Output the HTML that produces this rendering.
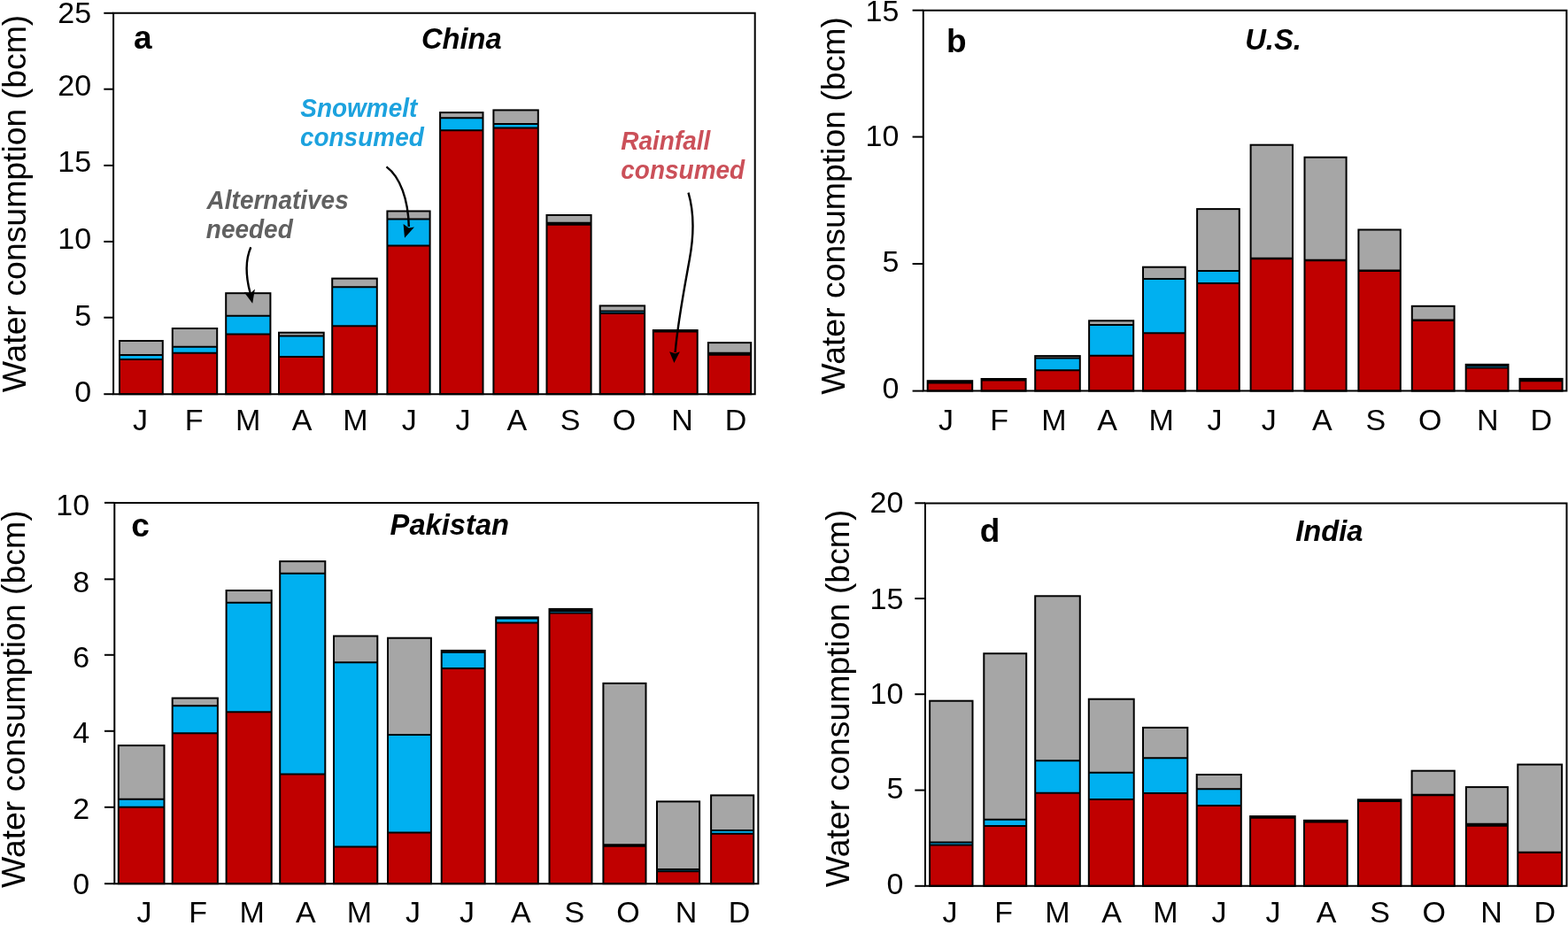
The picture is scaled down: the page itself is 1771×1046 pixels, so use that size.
<!DOCTYPE html>
<html><head><meta charset="utf-8"><title>Water consumption by month</title>
<style>
html,body{margin:0;padding:0;background:#fff;}
svg{display:block;}
.t{font-family:"Liberation Sans", Arial, Helvetica, sans-serif;}
</style></head><body>
<svg width="1771" height="1046" viewBox="0 0 1771 1046">
<rect x="0" y="0" width="1771" height="1046" fill="#fff"/>
<g id="panel-a">
<rect x="135" y="405.9" width="48.8" height="39.3" fill="#C00000"/>
<rect x="135" y="401.1" width="48.8" height="4.8" fill="#00B0F0"/>
<rect x="135" y="385" width="48.8" height="16.1" fill="#A6A6A6"/>
<path d="M135 401.1H183.8M135 405.9H183.8" stroke="#000" stroke-width="2" fill="none"/>
<rect x="135" y="385" width="48.8" height="60.2" fill="none" stroke="#000" stroke-width="2"/>
<rect x="194.8" y="398.7" width="50.4" height="46.5" fill="#C00000"/>
<rect x="194.8" y="391.8" width="50.4" height="6.9" fill="#00B0F0"/>
<rect x="194.8" y="371" width="50.4" height="20.8" fill="#A6A6A6"/>
<path d="M194.8 391.8H245.2M194.8 398.7H245.2" stroke="#000" stroke-width="2" fill="none"/>
<rect x="194.8" y="371" width="50.4" height="74.2" fill="none" stroke="#000" stroke-width="2"/>
<rect x="255.2" y="377.5" width="50.2" height="67.7" fill="#C00000"/>
<rect x="255.2" y="356.7" width="50.2" height="20.8" fill="#00B0F0"/>
<rect x="255.2" y="331.2" width="50.2" height="25.5" fill="#A6A6A6"/>
<path d="M255.2 356.7H305.4M255.2 377.5H305.4" stroke="#000" stroke-width="2" fill="none"/>
<rect x="255.2" y="331.2" width="50.2" height="114" fill="none" stroke="#000" stroke-width="2"/>
<rect x="315" y="403" width="50.7" height="42.2" fill="#C00000"/>
<rect x="315" y="379.6" width="50.7" height="23.4" fill="#00B0F0"/>
<rect x="315" y="375.7" width="50.7" height="3.9" fill="#A6A6A6"/>
<path d="M315 379.6H365.7M315 403H365.7" stroke="#000" stroke-width="2" fill="none"/>
<rect x="315" y="375.7" width="50.7" height="69.5" fill="none" stroke="#000" stroke-width="2"/>
<rect x="375.2" y="368.2" width="50.6" height="77" fill="#C00000"/>
<rect x="375.2" y="324.2" width="50.6" height="44" fill="#00B0F0"/>
<rect x="375.2" y="314.6" width="50.6" height="9.6" fill="#A6A6A6"/>
<path d="M375.2 324.2H425.8M375.2 368.2H425.8" stroke="#000" stroke-width="2" fill="none"/>
<rect x="375.2" y="314.6" width="50.6" height="130.6" fill="none" stroke="#000" stroke-width="2"/>
<rect x="437.4" y="277.5" width="48.2" height="167.7" fill="#C00000"/>
<rect x="437.4" y="247.5" width="48.2" height="30" fill="#00B0F0"/>
<rect x="437.4" y="238.5" width="48.2" height="9" fill="#A6A6A6"/>
<path d="M437.4 247.5H485.6M437.4 277.5H485.6" stroke="#000" stroke-width="2" fill="none"/>
<rect x="437.4" y="238.5" width="48.2" height="206.7" fill="none" stroke="#000" stroke-width="2"/>
<rect x="497.1" y="147.2" width="48.4" height="298" fill="#C00000"/>
<rect x="497.1" y="133.3" width="48.4" height="13.9" fill="#00B0F0"/>
<rect x="497.1" y="127.1" width="48.4" height="6.2" fill="#A6A6A6"/>
<path d="M497.1 133.3H545.5M497.1 147.2H545.5" stroke="#000" stroke-width="2" fill="none"/>
<rect x="497.1" y="127.1" width="48.4" height="318.1" fill="none" stroke="#000" stroke-width="2"/>
<rect x="557.4" y="144.5" width="50.4" height="300.7" fill="#C00000"/>
<rect x="557.4" y="140" width="50.4" height="4.5" fill="#00B0F0"/>
<rect x="557.4" y="124.4" width="50.4" height="15.6" fill="#A6A6A6"/>
<path d="M557.4 140H607.8M557.4 144.5H607.8" stroke="#000" stroke-width="2" fill="none"/>
<rect x="557.4" y="124.4" width="50.4" height="320.8" fill="none" stroke="#000" stroke-width="2"/>
<rect x="617.5" y="253.8" width="50.1" height="191.4" fill="#C00000"/>
<rect x="617.5" y="251.7" width="50.1" height="2.1" fill="#00B0F0"/>
<rect x="617.5" y="243" width="50.1" height="8.7" fill="#A6A6A6"/>
<path d="M617.5 251.7H667.6M617.5 253.8H667.6" stroke="#000" stroke-width="2" fill="none"/>
<rect x="617.5" y="243" width="50.1" height="202.2" fill="none" stroke="#000" stroke-width="2"/>
<rect x="677.7" y="354.1" width="50.4" height="91.1" fill="#C00000"/>
<rect x="677.7" y="351.6" width="50.4" height="2.5" fill="#00B0F0"/>
<rect x="677.7" y="345.4" width="50.4" height="6.2" fill="#A6A6A6"/>
<path d="M677.7 351.6H728.1M677.7 354.1H728.1" stroke="#000" stroke-width="2" fill="none"/>
<rect x="677.7" y="345.4" width="50.4" height="99.8" fill="none" stroke="#000" stroke-width="2"/>
<rect x="737.8" y="374.5" width="49.9" height="70.7" fill="#C00000"/>
<rect x="737.8" y="373.6" width="49.9" height="0.9" fill="#00B0F0"/>
<rect x="737.8" y="373.1" width="49.9" height="0.5" fill="#A6A6A6"/>
<path d="M737.8 373.6H787.7M737.8 374.5H787.7" stroke="#000" stroke-width="2" fill="none"/>
<rect x="737.8" y="373.1" width="49.9" height="72.1" fill="none" stroke="#000" stroke-width="2"/>
<rect x="799.9" y="400.8" width="48.3" height="44.4" fill="#C00000"/>
<rect x="799.9" y="398.7" width="48.3" height="2.1" fill="#00B0F0"/>
<rect x="799.9" y="387.1" width="48.3" height="11.6" fill="#A6A6A6"/>
<path d="M799.9 398.7H848.2M799.9 400.8H848.2" stroke="#000" stroke-width="2" fill="none"/>
<rect x="799.9" y="387.1" width="48.3" height="58.1" fill="none" stroke="#000" stroke-width="2"/>
<path d="M128.1 14.8H852.7V445.2H128.1Z" fill="none" stroke="#000" stroke-width="2"/>
<line x1="117.3" y1="14.8" x2="128.1" y2="14.8" stroke="#000" stroke-width="2"/>
<text class="t" x="103.1" y="26.4" font-size="34" text-anchor="end">25</text>
<line x1="117.3" y1="100.7" x2="128.1" y2="100.7" stroke="#000" stroke-width="2"/>
<text class="t" x="103.1" y="108.2" font-size="34" text-anchor="end">20</text>
<line x1="117.3" y1="186.9" x2="128.1" y2="186.9" stroke="#000" stroke-width="2"/>
<text class="t" x="103.1" y="194" font-size="34" text-anchor="end">15</text>
<line x1="117.3" y1="272.9" x2="128.1" y2="272.9" stroke="#000" stroke-width="2"/>
<text class="t" x="103.1" y="280.6" font-size="34" text-anchor="end">10</text>
<line x1="117.3" y1="358.7" x2="128.1" y2="358.7" stroke="#000" stroke-width="2"/>
<text class="t" x="103.1" y="367.5" font-size="34" text-anchor="end">5</text>
<line x1="117.3" y1="445.2" x2="128.1" y2="445.2" stroke="#000" stroke-width="2"/>
<text class="t" x="103.1" y="453.6" font-size="34" text-anchor="end">0</text>
<text class="t" x="158.576" y="486.2" font-size="34" text-anchor="middle">J</text>
<text class="t" x="219.107" y="486.2" font-size="34" text-anchor="middle">F</text>
<text class="t" x="280.203" y="486.2" font-size="34" text-anchor="middle">M</text>
<text class="t" x="340.998" y="486.2" font-size="34" text-anchor="middle">A</text>
<text class="t" x="401.503" y="486.2" font-size="34" text-anchor="middle">M</text>
<text class="t" x="462.276" y="486.2" font-size="34" text-anchor="middle">J</text>
<text class="t" x="522.876" y="486.2" font-size="34" text-anchor="middle">J</text>
<text class="t" x="583.798" y="486.2" font-size="34" text-anchor="middle">A</text>
<text class="t" x="644.132" y="486.2" font-size="34" text-anchor="middle">S</text>
<text class="t" x="705.075" y="486.2" font-size="34" text-anchor="middle">O</text>
<text class="t" x="770.553" y="486.2" font-size="34" text-anchor="middle">N</text>
<text class="t" x="830.966" y="486.2" font-size="34" text-anchor="middle">D</text>
<text class="t" transform="translate(29 230) rotate(-90)" x="0" y="0" font-size="37.4" text-anchor="middle">Water consumption (bcm)</text>
<text class="t" x="151" y="55.4" font-size="37" font-weight="bold">a</text>
<text class="t" x="475.9" y="54.9" font-size="32.7" font-weight="bold" font-style="italic">China</text>
</g>
<g id="panel-b">
<rect x="1047.7" y="432.6" width="50.5" height="9" fill="#C00000"/>
<rect x="1047.7" y="430.9" width="50.5" height="1.7" fill="#00B0F0"/>
<rect x="1047.7" y="430.2" width="50.5" height="0.7" fill="#A6A6A6"/>
<path d="M1047.7 430.9H1098.2M1047.7 432.6H1098.2" stroke="#000" stroke-width="2" fill="none"/>
<rect x="1047.7" y="430.2" width="50.5" height="11.4" fill="none" stroke="#000" stroke-width="2"/>
<rect x="1108.6" y="429.6" width="50" height="12" fill="#C00000"/>
<rect x="1108.6" y="428.7" width="50" height="0.9" fill="#00B0F0"/>
<rect x="1108.6" y="428" width="50" height="0.7" fill="#A6A6A6"/>
<path d="M1108.6 428.7H1158.6M1108.6 429.6H1158.6" stroke="#000" stroke-width="2" fill="none"/>
<rect x="1108.6" y="428" width="50" height="13.6" fill="none" stroke="#000" stroke-width="2"/>
<rect x="1169.2" y="418.3" width="50.6" height="23.3" fill="#C00000"/>
<rect x="1169.2" y="404.5" width="50.6" height="13.8" fill="#00B0F0"/>
<rect x="1169.2" y="402.1" width="50.6" height="2.4" fill="#A6A6A6"/>
<path d="M1169.2 404.5H1219.8M1169.2 418.3H1219.8" stroke="#000" stroke-width="2" fill="none"/>
<rect x="1169.2" y="402.1" width="50.6" height="39.5" fill="none" stroke="#000" stroke-width="2"/>
<rect x="1230.1" y="401.7" width="50.1" height="39.9" fill="#C00000"/>
<rect x="1230.1" y="366.9" width="50.1" height="34.8" fill="#00B0F0"/>
<rect x="1230.1" y="362.3" width="50.1" height="4.6" fill="#A6A6A6"/>
<path d="M1230.1 366.9H1280.2M1230.1 401.7H1280.2" stroke="#000" stroke-width="2" fill="none"/>
<rect x="1230.1" y="362.3" width="50.1" height="79.3" fill="none" stroke="#000" stroke-width="2"/>
<rect x="1291" y="376.3" width="47.7" height="65.3" fill="#C00000"/>
<rect x="1291" y="315.1" width="47.7" height="61.2" fill="#00B0F0"/>
<rect x="1291" y="301.7" width="47.7" height="13.4" fill="#A6A6A6"/>
<path d="M1291 315.1H1338.7M1291 376.3H1338.7" stroke="#000" stroke-width="2" fill="none"/>
<rect x="1291" y="301.7" width="47.7" height="139.9" fill="none" stroke="#000" stroke-width="2"/>
<rect x="1352.1" y="320" width="47.7" height="121.6" fill="#C00000"/>
<rect x="1352.1" y="306" width="47.7" height="14" fill="#00B0F0"/>
<rect x="1352.1" y="236.1" width="47.7" height="69.9" fill="#A6A6A6"/>
<path d="M1352.1 306H1399.8M1352.1 320H1399.8" stroke="#000" stroke-width="2" fill="none"/>
<rect x="1352.1" y="236.1" width="47.7" height="205.5" fill="none" stroke="#000" stroke-width="2"/>
<rect x="1412.6" y="292.2" width="47.4" height="149.4" fill="#C00000"/>
<rect x="1412.6" y="291.7" width="47.4" height="0.5" fill="#00B0F0"/>
<rect x="1412.6" y="163.7" width="47.4" height="128" fill="#A6A6A6"/>
<path d="M1412.6 291.7H1460M1412.6 292.2H1460" stroke="#000" stroke-width="2" fill="none"/>
<rect x="1412.6" y="163.7" width="47.4" height="277.9" fill="none" stroke="#000" stroke-width="2"/>
<rect x="1473.5" y="294.2" width="47.1" height="147.4" fill="#C00000"/>
<rect x="1473.5" y="293.7" width="47.1" height="0.5" fill="#00B0F0"/>
<rect x="1473.5" y="177.7" width="47.1" height="116" fill="#A6A6A6"/>
<path d="M1473.5 293.7H1520.6M1473.5 294.2H1520.6" stroke="#000" stroke-width="2" fill="none"/>
<rect x="1473.5" y="177.7" width="47.1" height="263.9" fill="none" stroke="#000" stroke-width="2"/>
<rect x="1534.4" y="306" width="47.4" height="135.6" fill="#C00000"/>
<rect x="1534.4" y="305.5" width="47.4" height="0.5" fill="#00B0F0"/>
<rect x="1534.4" y="259.5" width="47.4" height="46" fill="#A6A6A6"/>
<path d="M1534.4 305.5H1581.8M1534.4 306H1581.8" stroke="#000" stroke-width="2" fill="none"/>
<rect x="1534.4" y="259.5" width="47.4" height="182.1" fill="none" stroke="#000" stroke-width="2"/>
<rect x="1594.8" y="362" width="47.8" height="79.6" fill="#C00000"/>
<rect x="1594.8" y="361.5" width="47.8" height="0.5" fill="#00B0F0"/>
<rect x="1594.8" y="345.8" width="47.8" height="15.7" fill="#A6A6A6"/>
<path d="M1594.8 361.5H1642.6M1594.8 362H1642.6" stroke="#000" stroke-width="2" fill="none"/>
<rect x="1594.8" y="345.8" width="47.8" height="95.8" fill="none" stroke="#000" stroke-width="2"/>
<rect x="1655.7" y="415.6" width="47.8" height="26" fill="#C00000"/>
<rect x="1655.7" y="413" width="47.8" height="2.6" fill="#00B0F0"/>
<rect x="1655.7" y="411.8" width="47.8" height="1.2" fill="#A6A6A6"/>
<path d="M1655.7 413H1703.5M1655.7 415.6H1703.5" stroke="#000" stroke-width="2" fill="none"/>
<rect x="1655.7" y="411.8" width="47.8" height="29.8" fill="none" stroke="#000" stroke-width="2"/>
<rect x="1716.5" y="430.3" width="48.1" height="11.3" fill="#C00000"/>
<rect x="1716.5" y="428.6" width="48.1" height="1.7" fill="#00B0F0"/>
<rect x="1716.5" y="427.9" width="48.1" height="0.7" fill="#A6A6A6"/>
<path d="M1716.5 428.6H1764.6M1716.5 430.3H1764.6" stroke="#000" stroke-width="2" fill="none"/>
<rect x="1716.5" y="427.9" width="48.1" height="13.7" fill="none" stroke="#000" stroke-width="2"/>
<path d="M1042.8 11.65H1769.4V441.6H1042.8Z" fill="none" stroke="#000" stroke-width="2"/>
<line x1="1030.6" y1="11.65" x2="1042.8" y2="11.65" stroke="#000" stroke-width="2"/>
<text class="t" x="1015.4" y="23.6" font-size="34" text-anchor="end">15</text>
<line x1="1030.6" y1="154.6" x2="1042.8" y2="154.6" stroke="#000" stroke-width="2"/>
<text class="t" x="1015.4" y="165.4" font-size="34" text-anchor="end">10</text>
<line x1="1030.6" y1="298" x2="1042.8" y2="298" stroke="#000" stroke-width="2"/>
<text class="t" x="1015.4" y="307.4" font-size="34" text-anchor="end">5</text>
<line x1="1030.6" y1="441.6" x2="1042.8" y2="441.6" stroke="#000" stroke-width="2"/>
<text class="t" x="1015.4" y="449.9" font-size="34" text-anchor="end">0</text>
<text class="t" x="1068.576" y="486.2" font-size="34" text-anchor="middle">J</text>
<text class="t" x="1128.707" y="486.2" font-size="34" text-anchor="middle">F</text>
<text class="t" x="1190.303" y="486.2" font-size="34" text-anchor="middle">M</text>
<text class="t" x="1250.698" y="486.2" font-size="34" text-anchor="middle">A</text>
<text class="t" x="1311.703" y="486.2" font-size="34" text-anchor="middle">M</text>
<text class="t" x="1372.076" y="486.2" font-size="34" text-anchor="middle">J</text>
<text class="t" x="1433.176" y="486.2" font-size="34" text-anchor="middle">J</text>
<text class="t" x="1493.448" y="486.2" font-size="34" text-anchor="middle">A</text>
<text class="t" x="1553.832" y="486.2" font-size="34" text-anchor="middle">S</text>
<text class="t" x="1615.225" y="486.2" font-size="34" text-anchor="middle">O</text>
<text class="t" x="1680.403" y="486.2" font-size="34" text-anchor="middle">N</text>
<text class="t" x="1740.766" y="486.2" font-size="34" text-anchor="middle">D</text>
<text class="t" transform="translate(954.4 232.4) rotate(-90)" x="0" y="0" font-size="37.4" text-anchor="middle">Water consumption (bcm)</text>
<text class="t" x="1069" y="59.2" font-size="37" font-weight="bold">b</text>
<text class="t" x="1406.2" y="55.9" font-size="32.7" font-weight="bold" font-style="italic">U.S.</text>
</g>
<g id="panel-c">
<rect x="133.8" y="911.8" width="51.7" height="86.4" fill="#C00000"/>
<rect x="133.8" y="902.7" width="51.7" height="9.1" fill="#00B0F0"/>
<rect x="133.8" y="842.1" width="51.7" height="60.6" fill="#A6A6A6"/>
<path d="M133.8 902.7H185.5M133.8 911.8H185.5" stroke="#000" stroke-width="2" fill="none"/>
<rect x="133.8" y="842.1" width="51.7" height="156.1" fill="none" stroke="#000" stroke-width="2"/>
<rect x="194.7" y="828.2" width="51.2" height="170" fill="#C00000"/>
<rect x="194.7" y="797.3" width="51.2" height="30.9" fill="#00B0F0"/>
<rect x="194.7" y="788.6" width="51.2" height="8.7" fill="#A6A6A6"/>
<path d="M194.7 797.3H245.9M194.7 828.2H245.9" stroke="#000" stroke-width="2" fill="none"/>
<rect x="194.7" y="788.6" width="51.2" height="209.6" fill="none" stroke="#000" stroke-width="2"/>
<rect x="255.6" y="804.2" width="51.1" height="194" fill="#C00000"/>
<rect x="255.6" y="680.8" width="51.1" height="123.4" fill="#00B0F0"/>
<rect x="255.6" y="667" width="51.1" height="13.8" fill="#A6A6A6"/>
<path d="M255.6 680.8H306.7M255.6 804.2H306.7" stroke="#000" stroke-width="2" fill="none"/>
<rect x="255.6" y="667" width="51.1" height="331.2" fill="none" stroke="#000" stroke-width="2"/>
<rect x="316.2" y="874.4" width="51.1" height="123.8" fill="#C00000"/>
<rect x="316.2" y="647.7" width="51.1" height="226.7" fill="#00B0F0"/>
<rect x="316.2" y="634.1" width="51.1" height="13.6" fill="#A6A6A6"/>
<path d="M316.2 647.7H367.3M316.2 874.4H367.3" stroke="#000" stroke-width="2" fill="none"/>
<rect x="316.2" y="634.1" width="51.1" height="364.1" fill="none" stroke="#000" stroke-width="2"/>
<rect x="377" y="956.5" width="49.3" height="41.7" fill="#C00000"/>
<rect x="377" y="748.3" width="49.3" height="208.2" fill="#00B0F0"/>
<rect x="377" y="718.5" width="49.3" height="29.8" fill="#A6A6A6"/>
<path d="M377 748.3H426.3M377 956.5H426.3" stroke="#000" stroke-width="2" fill="none"/>
<rect x="377" y="718.5" width="49.3" height="279.7" fill="none" stroke="#000" stroke-width="2"/>
<rect x="438" y="940.5" width="48.9" height="57.7" fill="#C00000"/>
<rect x="438" y="830" width="48.9" height="110.5" fill="#00B0F0"/>
<rect x="438" y="720.7" width="48.9" height="109.3" fill="#A6A6A6"/>
<path d="M438 830H486.9M438 940.5H486.9" stroke="#000" stroke-width="2" fill="none"/>
<rect x="438" y="720.7" width="48.9" height="277.5" fill="none" stroke="#000" stroke-width="2"/>
<rect x="498.7" y="754.95" width="49" height="243.25" fill="#C00000"/>
<rect x="498.7" y="736.8" width="49" height="18.15" fill="#00B0F0"/>
<rect x="498.7" y="734.9" width="49" height="1.9" fill="#A6A6A6"/>
<path d="M498.7 736.8H547.7M498.7 754.95H547.7" stroke="#000" stroke-width="2" fill="none"/>
<rect x="498.7" y="734.9" width="49" height="263.3" fill="none" stroke="#000" stroke-width="2"/>
<rect x="560.2" y="703.55" width="47.6" height="294.65" fill="#C00000"/>
<rect x="560.2" y="698.5" width="47.6" height="5.05" fill="#00B0F0"/>
<rect x="560.2" y="697.3" width="47.6" height="1.2" fill="#A6A6A6"/>
<path d="M560.2 698.5H607.8M560.2 703.55H607.8" stroke="#000" stroke-width="2" fill="none"/>
<rect x="560.2" y="697.3" width="47.6" height="300.9" fill="none" stroke="#000" stroke-width="2"/>
<rect x="620.5" y="692.4" width="48" height="305.8" fill="#C00000"/>
<rect x="620.5" y="690" width="48" height="2.4" fill="#00B0F0"/>
<rect x="620.5" y="687.9" width="48" height="2.1" fill="#A6A6A6"/>
<path d="M620.5 690H668.5M620.5 692.4H668.5" stroke="#000" stroke-width="2" fill="none"/>
<rect x="620.5" y="687.9" width="48" height="310.3" fill="none" stroke="#000" stroke-width="2"/>
<rect x="681.4" y="955.8" width="48.1" height="42.4" fill="#C00000"/>
<rect x="681.4" y="954.2" width="48.1" height="1.6" fill="#00B0F0"/>
<rect x="681.4" y="771.9" width="48.1" height="182.3" fill="#A6A6A6"/>
<path d="M681.4 954.2H729.5M681.4 955.8H729.5" stroke="#000" stroke-width="2" fill="none"/>
<rect x="681.4" y="771.9" width="48.1" height="226.3" fill="none" stroke="#000" stroke-width="2"/>
<rect x="742" y="984.2" width="48.1" height="14" fill="#C00000"/>
<rect x="742" y="982" width="48.1" height="2.2" fill="#00B0F0"/>
<rect x="742" y="905.4" width="48.1" height="76.6" fill="#A6A6A6"/>
<path d="M742 982H790.1M742 984.2H790.1" stroke="#000" stroke-width="2" fill="none"/>
<rect x="742" y="905.4" width="48.1" height="92.8" fill="none" stroke="#000" stroke-width="2"/>
<rect x="803.1" y="941.8" width="48.1" height="56.4" fill="#C00000"/>
<rect x="803.1" y="938.1" width="48.1" height="3.7" fill="#00B0F0"/>
<rect x="803.1" y="898.4" width="48.1" height="39.7" fill="#A6A6A6"/>
<path d="M803.1 938.1H851.2M803.1 941.8H851.2" stroke="#000" stroke-width="2" fill="none"/>
<rect x="803.1" y="898.4" width="48.1" height="99.8" fill="none" stroke="#000" stroke-width="2"/>
<path d="M129.3 568.1H856.4V998.2H129.3Z" fill="none" stroke="#000" stroke-width="2"/>
<line x1="118" y1="567.9" x2="129.3" y2="567.9" stroke="#000" stroke-width="2"/>
<text class="t" x="101.2" y="582.1" font-size="34" text-anchor="end">10</text>
<line x1="118" y1="654.3" x2="129.3" y2="654.3" stroke="#000" stroke-width="2"/>
<text class="t" x="101.2" y="668.7" font-size="34" text-anchor="end">8</text>
<line x1="118" y1="739.8" x2="129.3" y2="739.8" stroke="#000" stroke-width="2"/>
<text class="t" x="101.2" y="753.6" font-size="34" text-anchor="end">6</text>
<line x1="118" y1="825.8" x2="129.3" y2="825.8" stroke="#000" stroke-width="2"/>
<text class="t" x="101.2" y="839.1" font-size="34" text-anchor="end">4</text>
<line x1="118" y1="911.8" x2="129.3" y2="911.8" stroke="#000" stroke-width="2"/>
<text class="t" x="101.2" y="924.9" font-size="34" text-anchor="end">2</text>
<line x1="118" y1="998.2" x2="129.3" y2="998.2" stroke="#000" stroke-width="2"/>
<text class="t" x="101.2" y="1010.4" font-size="34" text-anchor="end">0</text>
<text class="t" x="163.076" y="1041.6" font-size="34" text-anchor="middle">J</text>
<text class="t" x="223.757" y="1041.6" font-size="34" text-anchor="middle">F</text>
<text class="t" x="284.703" y="1041.6" font-size="34" text-anchor="middle">M</text>
<text class="t" x="345.398" y="1041.6" font-size="34" text-anchor="middle">A</text>
<text class="t" x="405.903" y="1041.6" font-size="34" text-anchor="middle">M</text>
<text class="t" x="466.576" y="1041.6" font-size="34" text-anchor="middle">J</text>
<text class="t" x="527.476" y="1041.6" font-size="34" text-anchor="middle">J</text>
<text class="t" x="588.348" y="1041.6" font-size="34" text-anchor="middle">A</text>
<text class="t" x="648.832" y="1041.6" font-size="34" text-anchor="middle">S</text>
<text class="t" x="709.575" y="1041.6" font-size="34" text-anchor="middle">O</text>
<text class="t" x="775.103" y="1041.6" font-size="34" text-anchor="middle">N</text>
<text class="t" x="835.116" y="1041.6" font-size="34" text-anchor="middle">D</text>
<text class="t" transform="translate(27.7 789.7) rotate(-90)" x="0" y="0" font-size="37.4" text-anchor="middle">Water consumption (bcm)</text>
<text class="t" x="148.2" y="606" font-size="37" font-weight="bold">c</text>
<text class="t" x="440.6" y="604.2" font-size="32.7" font-weight="bold" font-style="italic">Pakistan</text>
</g>
<g id="panel-d">
<rect x="1050.1" y="954.5" width="48.4" height="46.3" fill="#C00000"/>
<rect x="1050.1" y="951.6" width="48.4" height="2.9" fill="#00B0F0"/>
<rect x="1050.1" y="791.7" width="48.4" height="159.9" fill="#A6A6A6"/>
<path d="M1050.1 951.6H1098.5M1050.1 954.5H1098.5" stroke="#000" stroke-width="2" fill="none"/>
<rect x="1050.1" y="791.7" width="48.4" height="209.1" fill="none" stroke="#000" stroke-width="2"/>
<rect x="1111.3" y="933.1" width="47.9" height="67.7" fill="#C00000"/>
<rect x="1111.3" y="925.8" width="47.9" height="7.3" fill="#00B0F0"/>
<rect x="1111.3" y="738.2" width="47.9" height="187.6" fill="#A6A6A6"/>
<path d="M1111.3 925.8H1159.2M1111.3 933.1H1159.2" stroke="#000" stroke-width="2" fill="none"/>
<rect x="1111.3" y="738.2" width="47.9" height="262.6" fill="none" stroke="#000" stroke-width="2"/>
<rect x="1169.2" y="895.8" width="50.6" height="105" fill="#C00000"/>
<rect x="1169.2" y="859.2" width="50.6" height="36.6" fill="#00B0F0"/>
<rect x="1169.2" y="673.3" width="50.6" height="185.9" fill="#A6A6A6"/>
<path d="M1169.2 859.2H1219.8M1169.2 895.8H1219.8" stroke="#000" stroke-width="2" fill="none"/>
<rect x="1169.2" y="673.3" width="50.6" height="327.5" fill="none" stroke="#000" stroke-width="2"/>
<rect x="1229.8" y="903.1" width="50.9" height="97.7" fill="#C00000"/>
<rect x="1229.8" y="872.7" width="50.9" height="30.4" fill="#00B0F0"/>
<rect x="1229.8" y="789.7" width="50.9" height="83" fill="#A6A6A6"/>
<path d="M1229.8 872.7H1280.7M1229.8 903.1H1280.7" stroke="#000" stroke-width="2" fill="none"/>
<rect x="1229.8" y="789.7" width="50.9" height="211.1" fill="none" stroke="#000" stroke-width="2"/>
<rect x="1291" y="896.1" width="50.3" height="104.7" fill="#C00000"/>
<rect x="1291" y="856.3" width="50.3" height="39.8" fill="#00B0F0"/>
<rect x="1291" y="821.9" width="50.3" height="34.4" fill="#A6A6A6"/>
<path d="M1291 856.3H1341.3M1291 896.1H1341.3" stroke="#000" stroke-width="2" fill="none"/>
<rect x="1291" y="821.9" width="50.3" height="178.9" fill="none" stroke="#000" stroke-width="2"/>
<rect x="1351.7" y="910.1" width="50.1" height="90.7" fill="#C00000"/>
<rect x="1351.7" y="891.2" width="50.1" height="18.9" fill="#00B0F0"/>
<rect x="1351.7" y="875" width="50.1" height="16.2" fill="#A6A6A6"/>
<path d="M1351.7 891.2H1401.8M1351.7 910.1H1401.8" stroke="#000" stroke-width="2" fill="none"/>
<rect x="1351.7" y="875" width="50.1" height="125.8" fill="none" stroke="#000" stroke-width="2"/>
<rect x="1412.1" y="923.8" width="50.6" height="77" fill="#C00000"/>
<rect x="1412.1" y="922.95" width="50.6" height="0.85" fill="#00B0F0"/>
<rect x="1412.1" y="922.1" width="50.6" height="0.85" fill="#A6A6A6"/>
<path d="M1412.1 922.95H1462.7M1412.1 923.8H1462.7" stroke="#000" stroke-width="2" fill="none"/>
<rect x="1412.1" y="922.1" width="50.6" height="78.7" fill="none" stroke="#000" stroke-width="2"/>
<rect x="1473" y="928.5" width="48.7" height="72.3" fill="#C00000"/>
<rect x="1473" y="927.65" width="48.7" height="0.85" fill="#00B0F0"/>
<rect x="1473" y="926.8" width="48.7" height="0.85" fill="#A6A6A6"/>
<path d="M1473 927.65H1521.7M1473 928.5H1521.7" stroke="#000" stroke-width="2" fill="none"/>
<rect x="1473" y="926.8" width="48.7" height="74" fill="none" stroke="#000" stroke-width="2"/>
<rect x="1533.9" y="905" width="48.5" height="95.8" fill="#C00000"/>
<rect x="1533.9" y="904.15" width="48.5" height="0.85" fill="#00B0F0"/>
<rect x="1533.9" y="903.3" width="48.5" height="0.85" fill="#A6A6A6"/>
<path d="M1533.9 904.15H1582.4M1533.9 905H1582.4" stroke="#000" stroke-width="2" fill="none"/>
<rect x="1533.9" y="903.3" width="48.5" height="97.5" fill="none" stroke="#000" stroke-width="2"/>
<rect x="1594.6" y="898.2" width="48.2" height="102.6" fill="#C00000"/>
<rect x="1594.6" y="897.8" width="48.2" height="0.4" fill="#00B0F0"/>
<rect x="1594.6" y="870.7" width="48.2" height="27.1" fill="#A6A6A6"/>
<path d="M1594.6 897.8H1642.8M1594.6 898.2H1642.8" stroke="#000" stroke-width="2" fill="none"/>
<rect x="1594.6" y="870.7" width="48.2" height="130.1" fill="none" stroke="#000" stroke-width="2"/>
<rect x="1655.9" y="932.8" width="47" height="68" fill="#C00000"/>
<rect x="1655.9" y="930.8" width="47" height="2" fill="#00B0F0"/>
<rect x="1655.9" y="889.1" width="47" height="41.7" fill="#A6A6A6"/>
<path d="M1655.9 930.8H1702.9M1655.9 932.8H1702.9" stroke="#000" stroke-width="2" fill="none"/>
<rect x="1655.9" y="889.1" width="47" height="111.7" fill="none" stroke="#000" stroke-width="2"/>
<rect x="1714.3" y="963" width="49.8" height="37.8" fill="#C00000"/>
<rect x="1714.3" y="962.8" width="49.8" height="0.2" fill="#00B0F0"/>
<rect x="1714.3" y="863.6" width="49.8" height="99.2" fill="#A6A6A6"/>
<path d="M1714.3 962.8H1764.1M1714.3 963H1764.1" stroke="#000" stroke-width="2" fill="none"/>
<rect x="1714.3" y="863.6" width="49.8" height="137.2" fill="none" stroke="#000" stroke-width="2"/>
<path d="M1045 568.5H1769.5V1000.8H1045Z" fill="none" stroke="#000" stroke-width="2"/>
<line x1="1033.3" y1="568.3" x2="1045" y2="568.3" stroke="#000" stroke-width="2"/>
<text class="t" x="1020.3" y="579.3" font-size="34" text-anchor="end">20</text>
<line x1="1033.3" y1="676.1" x2="1045" y2="676.1" stroke="#000" stroke-width="2"/>
<text class="t" x="1020.3" y="687.5" font-size="34" text-anchor="end">15</text>
<line x1="1033.3" y1="784.2" x2="1045" y2="784.2" stroke="#000" stroke-width="2"/>
<text class="t" x="1020.3" y="794.8" font-size="34" text-anchor="end">10</text>
<line x1="1033.3" y1="892.6" x2="1045" y2="892.6" stroke="#000" stroke-width="2"/>
<text class="t" x="1020.3" y="901.8" font-size="34" text-anchor="end">5</text>
<line x1="1033.3" y1="1000.8" x2="1045" y2="1000.8" stroke="#000" stroke-width="2"/>
<text class="t" x="1020.3" y="1009.6" font-size="34" text-anchor="end">0</text>
<text class="t" x="1073.026" y="1041.8" font-size="34" text-anchor="middle">J</text>
<text class="t" x="1133.657" y="1041.8" font-size="34" text-anchor="middle">F</text>
<text class="t" x="1194.503" y="1041.8" font-size="34" text-anchor="middle">M</text>
<text class="t" x="1255.498" y="1041.8" font-size="34" text-anchor="middle">A</text>
<text class="t" x="1316.503" y="1041.8" font-size="34" text-anchor="middle">M</text>
<text class="t" x="1377.076" y="1041.8" font-size="34" text-anchor="middle">J</text>
<text class="t" x="1437.926" y="1041.8" font-size="34" text-anchor="middle">J</text>
<text class="t" x="1498.198" y="1041.8" font-size="34" text-anchor="middle">A</text>
<text class="t" x="1558.582" y="1041.8" font-size="34" text-anchor="middle">S</text>
<text class="t" x="1619.825" y="1041.8" font-size="34" text-anchor="middle">O</text>
<text class="t" x="1684.653" y="1041.8" font-size="34" text-anchor="middle">N</text>
<text class="t" x="1744.816" y="1041.8" font-size="34" text-anchor="middle">D</text>
<text class="t" transform="translate(958.6 788.9) rotate(-90)" x="0" y="0" font-size="37.4" text-anchor="middle">Water consumption (bcm)</text>
<text class="t" x="1106.8" y="611.7" font-size="37" font-weight="bold">d</text>
<text class="t" x="1463.2" y="610.6" font-size="32.7" font-weight="bold" font-style="italic">India</text>
</g>
<text class="t" transform="translate(233.6 236.4) scale(0.975 1)" x="0" y="0" font-size="28.7" font-weight="bold" font-style="italic" fill="#606060">Alternatives</text>
<text class="t" transform="translate(232.8 269.3) scale(0.975 1)" x="0" y="0" font-size="28.7" font-weight="bold" font-style="italic" fill="#606060">needed</text>
<text class="t" transform="translate(339.3 131.6) scale(0.975 1)" x="0" y="0" font-size="28.7" font-weight="bold" font-style="italic" fill="#1CA2DE">Snowmelt</text>
<text class="t" transform="translate(338.9 164.6) scale(0.975 1)" x="0" y="0" font-size="28.7" font-weight="bold" font-style="italic" fill="#1CA2DE">consumed</text>
<text class="t" transform="translate(701.3 169.1) scale(0.975 1)" x="0" y="0" font-size="28.7" font-weight="bold" font-style="italic" fill="#CB5059">Rainfall</text>
<text class="t" transform="translate(701.3 202.4) scale(0.975 1)" x="0" y="0" font-size="28.7" font-weight="bold" font-style="italic" fill="#CB5059">consumed</text>
<path d="M283.3 279.2 C276.5 295 277.5 312 282.6 331" fill="none" stroke="#000" stroke-width="2.4"/>
<path d="M285.2 342.7 L275.7 330 L282.8 331.2 L287.9 326.6 Z" fill="#000"/>
<path d="M436.5 188.4 C452 200 461 225 461.8 256" fill="none" stroke="#000" stroke-width="2.4"/>
<path d="M457 268.8 L455.6 253.1 L461.8 257.5 L468 256.4 Z" fill="#000"/>
<path d="M777.5 217.7 C784 240 784 265 778.8 293 C774 320 766 360 762.6 398" fill="none" stroke="#000" stroke-width="2.4"/>
<path d="M761.4 410 L756.1 397.3 L762.6 399.3 L767.9 397.3 Z" fill="#000"/>
</svg>
</body></html>
